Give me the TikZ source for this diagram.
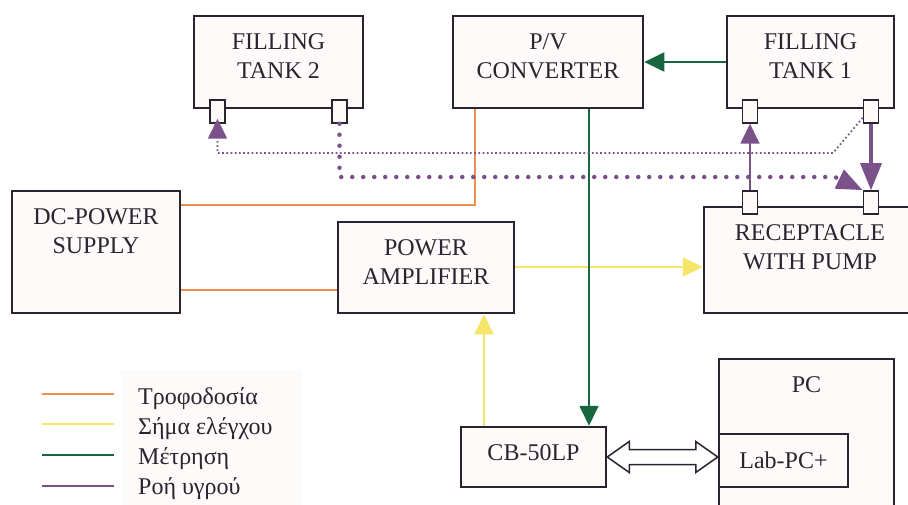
\documentclass[tikz,border=0pt]{standalone}
\usepackage{fontspec}
\setmainfont{Liberation Serif}
\usepackage{tikz}
\usetikzlibrary{arrows.meta, calc, positioning}

\definecolor{boxline}{HTML}{2B2330}
\definecolor{boxfill}{HTML}{FCFBF9}
\definecolor{powerc}{HTML}{F08C50}
\definecolor{controlc}{HTML}{F5E56B}
\definecolor{measurec}{HTML}{17663F}
\definecolor{flowc}{HTML}{7A5289}

\begin{document}
\begin{tikzpicture}[x=1pt, y=-1pt, font=\fontsize{24}{29}\selectfont,
  blockbox/.style={draw=boxline, fill=boxfill, line width=2.5pt, inner sep=0pt},
  boxtext/.style={anchor=north, yshift=-18.5pt, inner sep=0pt, align=center, text=boxline},
  port/.style={draw=boxline, fill=boxfill, line width=1.5pt, minimum width=15pt, minimum height=23pt, inner sep=0pt},
  power/.style={powerc, line width=1.8pt},
  control/.style={controlc, line width=2pt},
  measure/.style={measurec, line width=1.8pt},
  flow/.style={flowc, line width=1.8pt},
  legtext/.style={anchor=base west, inner sep=0pt, text=boxline},
  >={Triangle[length=20pt, width=19pt]}]
  \path[use as bounding box, fill=white] (0,0) rectangle (908,505);

  \node (tank2) [blockbox, minimum width=169pt, minimum height=92pt, label={[boxtext]north:FILLING\\TANK 2}] at (278.5,62) {};
  \node (pv) [blockbox, minimum width=190pt, minimum height=92pt, label={[boxtext]north:P/V\\CONVERTER}] at (548,62) {};
  \node (tank1) [blockbox, minimum width=167pt, minimum height=92pt, label={[boxtext]north:FILLING\\TANK 1}] at (810.5,62) {};
  \node (dc) [blockbox, minimum width=168pt, minimum height=122pt, label={[boxtext]north:DC-POWER\\SUPPLY}] at (96,252) {};
  \node (amp) [blockbox, minimum width=176pt, minimum height=91pt, label={[boxtext]north:POWER\\AMPLIFIER}] at (426,267.5) {};
  \node (rec) [blockbox, minimum width=212pt, minimum height=106pt, label={[boxtext]north:RECEPTACLE\\WITH PUMP}] at (810,260) {};
  \node (cb) [blockbox, minimum width=145pt, minimum height=60pt, label={[boxtext]north:CB-50LP}] at (533.5,457) {};
  \node (pc) [blockbox, minimum width=175pt, minimum height=171pt, label={[boxtext]north:PC}] at (806.5,444.5) {};
  \node (lab) [blockbox, minimum width=129pt, minimum height=53pt, label={[boxtext]north:Lab-PC+}] at (783.5,460.5) {};

  \node (p2a) [port] at (217.5,111.5) {};
  \node (p2b) [port] at (339.5,111.5) {};
  \node (p1a) [port] at (750,111.5) {};
  \node (p1b) [port] at (871,111.5) {};
  \node (ra) [port] at (750,202.5) {};
  \node (rb) [port] at (871,202.5) {};

  \draw[power] ([xshift=23pt]pv.south west) |- ([yshift=-15pt]dc.north east);
  \draw[power] ([yshift=-22.5pt]amp.west) -- ([yshift=-22.5pt]amp.west -| dc.east);
  \draw[control, ->] ([yshift=0.5pt]amp.east) -- ([yshift=0.5pt]amp.east -| rec.west);
  \draw[control, ->] ([xshift=-49.5pt]cb.north) -- ([xshift=-49.5pt]cb.north |- amp.south);
  \draw[measure, ->] (tank1.west) -- (pv.east);
  \draw[measure, ->] ([xshift=41pt]pv.south) -- ([xshift=41pt]pv.south |- cb.north);

  \coordinate (bend1) at (833,153);
  \coordinate (bend2) at (835,177);
  \draw[flow, ->] (ra.north) -- (p1a.south);
  \draw[flow, line width=3.5pt, -{Triangle[length=27pt, width=21pt]}] (p1b.south) -- (rb.north);
  \draw[flow, line width=1.7pt, dash pattern=on 1.7pt off 2.5pt, shorten >=-5pt, ->] ([yshift=6pt]p1b.south west) -- (bend1) -- (bend1 -| p2a) -- (p2a.south);
  \draw[flow, line width=4.5pt, line cap=round, dash pattern=on 0pt off 11pt, -{Triangle[length=26pt, width=20pt]}] (p2b.south) |- (bend2) -- (rb.north west);

  \draw[draw=boxline, fill=white, line width=1.5pt] (cb.east) -- ++(22,-15.5) -- ++(0,8)
    -- ($(cb.east -| lab.west)+(-22,-7.5)$) -- ++(0,-8) -- (cb.east -| lab.west)
    -- ++(-22,15.5) -- ++(0,-8) -- ($(cb.east)+(22,7.5)$) -- ++(0,8) -- cycle;

  \fill[boxfill] (121,370) rectangle (302,510);
  \draw[power] (42,394) -- (114,394);
  \draw[control] (42,424) -- (114,424);
  \draw[measure] (42,455) -- (114,455);
  \draw[flow] (42,486) -- (114,486);
  \node[legtext] (lgpower) at (138,404) {Τροφοδοσία};
  \node[legtext] (lgcontrol) at (138,434) {Σήμα ελέγχου};
  \node[legtext] (lgmeasure) at (138,464) {Μέτρηση};
  \node[legtext] (lgflow) at (138,494) {Ροή υγρού};
\end{tikzpicture}
\end{document}
